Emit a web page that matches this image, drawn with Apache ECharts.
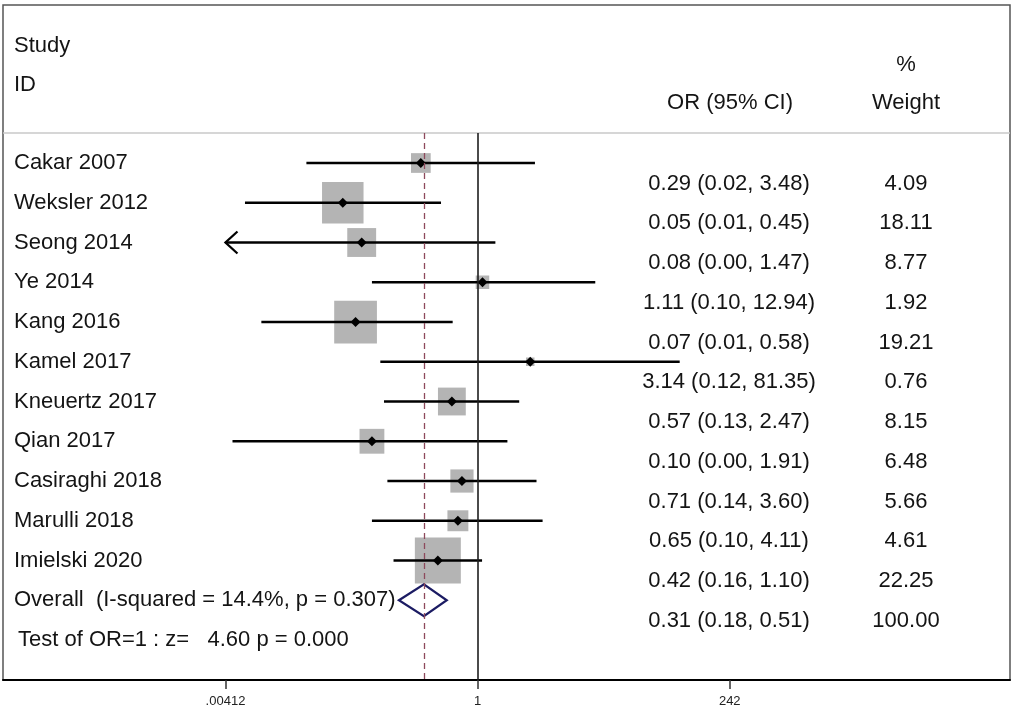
<!DOCTYPE html>
<html>
<head>
<meta charset="utf-8">
<script src="https://cdn.jsdelivr.net/npm/echarts@6/dist/echarts.min.js"></script>
<style>
html, body { margin: 0; padding: 0; background: #fff; }
#main { width: 1013px; height: 714px; }
</style>
</head>
<body>
<div id="main"></div>
<script>
// study rows (CI limits kept a bit finer where the line shows it)
var studies = ['Cakar 2007', 'Weksler 2012', 'Seong 2014', 'Ye 2014', 'Kang 2016', 'Kamel 2017',
  'Kneuertz 2017', 'Qian 2017', 'Casiraghi 2018', 'Marulli 2018', 'Imielski 2020'];
var orValues = [0.29, 0.053, 0.08, 1.11, 0.07, 3.14, 0.57, 0.10, 0.71, 0.65, 0.42];
var ciLower = [0.024, 0.0063, 0.004, 0.10, 0.009, 0.12, 0.13, 0.0048, 0.14, 0.10, 0.16];
var ciUpper = [3.48, 0.45, 1.47, 12.94, 0.58, 81.35, 2.47, 1.91, 3.60, 4.11, 1.10];
var weights = [4.09, 18.11, 8.77, 1.92, 19.21, 0.76, 8.15, 6.48, 5.66, 4.61, 22.25];

// pooled estimate
var overallOR = [0.31, 0.18, 0.51];   // OR, lower, upper
var overallWeight = 100.00;
var overallLabel = 'Overall  (I-squared = 14.4%, p = 0.307)';
var testLabel = 'Test of OR=1 : z=   4.60 p = 0.000';

// x axis ticks
var tickValues = [0.00412, 1, 242];
var tickLabels = ['.00412', '1', '242'];

var FONT = '"Liberation Sans", Arial, sans-serif';
var FS = '22px ';
var TXT = '#141414';
var lg = function (v) { return Math.log10(v); };
var minLog = lg(tickValues[0]);
var maxLog = lg(tickValues[tickValues.length - 1]);
var fmt = function (a, b, c) { return a.toFixed(2) + ' (' + b.toFixed(2) + ', ' + c.toFixed(2) + ')'; };

var nRows = studies.length;
var rowData = studies.map(function (s, i) {
  return [i, lg(orValues[i]), lg(ciLower[i]), lg(ciUpper[i]), weights[i]];
});

// text table rows: name, OR text, weight text
var textRows = studies.map(function (s, i) {
  return [i, s, fmt(orValues[i], ciLower[i], ciUpper[i]), weights[i].toFixed(2)];
});
textRows.push([nRows, overallLabel, fmt(overallOR[0], overallOR[1], overallOR[2]), overallWeight.toFixed(2)]);
textRows.push([nRows + 1, testLabel, '', '']);

var chart = echarts.init(document.getElementById('main'));

chart.setOption({
  animation: false,
  backgroundColor: '#fff',
  grid: { left: 3, top: 133, width: 1007, height: 547 },
  xAxis: {
    type: 'value',
    min: -4.489,
    max: 5.034,
    splitLine: { show: false },
    axisLine: { onZero: false, lineStyle: { color: '#000', width: 2 } },
    axisTick: {
      show: true, length: 9, customValues: tickValues.map(lg),
      lineStyle: { color: '#333', width: 1.5 }
    },
    axisLabel: {
      customValues: tickValues.map(lg), margin: 15,
      fontFamily: FONT, fontSize: 13, color: '#222',
      formatter: function (v) {
        var k = 0, best = Infinity;
        tickValues.forEach(function (t, j) {
          var d = Math.abs(lg(t) - v);
          if (d < best) { best = d; k = j; }
        });
        return tickLabels[k];
      }
    }
  },
  yAxis: {
    type: 'value', inverse: true, min: -0.755, max: 13.006, show: false
  },
  graphic: [
    { type: 'rect', shape: { x: 3, y: 5, width: 1007, height: 675 },
      style: { fill: 'none', stroke: '#555', lineWidth: 1.5 }, z: 0 },
    { type: 'line', shape: { x1: 3, y1: 133, x2: 1010, y2: 133 },
      style: { stroke: '#c8c8c8', lineWidth: 1.5 }, z: 0 },
    { type: 'text', x: 14, y: 46, style: { text: 'Study', font: FS + FONT, fill: TXT, verticalAlign: 'middle' } },
    { type: 'text', x: 14, y: 85, style: { text: 'ID', font: FS + FONT, fill: TXT, verticalAlign: 'middle' } },
    { type: 'text', x: 906, y: 65, style: { text: '%', font: FS + FONT, fill: TXT, align: 'center', verticalAlign: 'middle' } },
    { type: 'text', x: 730, y: 103, style: { text: 'OR (95% CI)', font: FS + FONT, fill: TXT, align: 'center', verticalAlign: 'middle' } },
    { type: 'text', x: 906, y: 103, style: { text: 'Weight', font: FS + FONT, fill: TXT, align: 'center', verticalAlign: 'middle' } }
  ],
  series: [
    {
      // reference lines: no effect (OR = 1) and pooled estimate
      type: 'line', data: [], z: 1, silent: true,
      markLine: {
        silent: true, symbol: 'none', label: { show: false }, animation: false,
        data: [
          { xAxis: 0, lineStyle: { color: '#1e1e1e', width: 1.6, type: 'solid' } },
          { xAxis: lg(overallOR[0]), lineStyle: { color: '#8e4a5c', width: 1.3, type: [6, 4] } }
        ]
      }
    },
    {
      // study boxes, CI lines and point markers
      type: 'custom', z: 3, data: rowData,
      encode: { x: [1, 2, 3], y: 0 },
      renderItem: function (params, api) {
        var r = api.value(0);
        var c = api.coord([api.value(1), r]);
        var loL = api.value(2), hiL = api.value(3);
        var pLo = api.coord([Math.max(loL, minLog), r]);
        var pHi = api.coord([Math.min(hiL, maxLog), r]);
        var side = 9.75 * Math.sqrt(api.value(4));
        var kids = [
          { type: 'rect', shape: { x: c[0] - side / 2, y: c[1] - side / 2, width: side, height: side },
            style: { fill: '#b4b4b4' } },
          { type: 'line', shape: { x1: pLo[0], y1: c[1], x2: pHi[0], y2: c[1] },
            style: { stroke: '#000', lineWidth: 2.3 } },
          { type: 'polygon', shape: { points: [[c[0] - 5, c[1]], [c[0], c[1] - 5], [c[0] + 5, c[1]], [c[0], c[1] + 5]] },
            style: { fill: '#000' } }
        ];
        if (loL < minLog) {
          kids.push({ type: 'polyline', shape: { points: [[pLo[0] + 12, c[1] - 11], [pLo[0], c[1]], [pLo[0] + 12, c[1] + 11]] },
            style: { stroke: '#000', lineWidth: 2.3, fill: 'none' } });
        }
        if (hiL > maxLog) {
          kids.push({ type: 'polyline', shape: { points: [[pHi[0] - 12, c[1] - 11], [pHi[0], c[1]], [pHi[0] - 12, c[1] + 11]] },
            style: { stroke: '#000', lineWidth: 2.3, fill: 'none' } });
        }
        return { type: 'group', children: kids };
      }
    },
    {
      // pooled diamond
      type: 'custom', z: 4,
      data: [[nRows, lg(overallOR[0]), lg(overallOR[1]), lg(overallOR[2])]],
      encode: { x: [1, 2, 3], y: 0 },
      renderItem: function (params, api) {
        var r = api.value(0);
        var m = api.coord([api.value(1), r]);
        var a = api.coord([api.value(2), r]);
        var b = api.coord([api.value(3), r]);
        return {
          type: 'polygon',
          shape: { points: [[a[0], m[1]], [m[0], m[1] - 16], [b[0], m[1]], [m[0], m[1] + 16]] },
          style: { fill: 'none', stroke: '#1b1b63', lineWidth: 2.2 }
        };
      }
    },
    {
      // table text
      type: 'custom', z: 5, data: textRows,
      encode: { y: 0 },
      renderItem: function (params, api) {
        var i = params.dataIndex;
        var row = textRows[i];
        var y0 = api.coord([0, row[0]])[1];
        var y1 = api.coord([0, row[0] + 0.52])[1];
        var isTest = row[0] === nRows + 1;
        return {
          type: 'group',
          children: [
            { type: 'text', style: { x: isTest ? 18 : 14, y: y0, text: row[1], font: FS + FONT, fill: TXT, verticalAlign: 'middle' } },
            { type: 'text', style: { x: 729, y: y1, text: row[2], font: FS + FONT, fill: TXT, align: 'center', verticalAlign: 'middle' } },
            { type: 'text', style: { x: 906, y: y1, text: row[3], font: FS + FONT, fill: TXT, align: 'center', verticalAlign: 'middle' } }
          ]
        };
      }
    }
  ]
});
</script>
</body>
</html>
